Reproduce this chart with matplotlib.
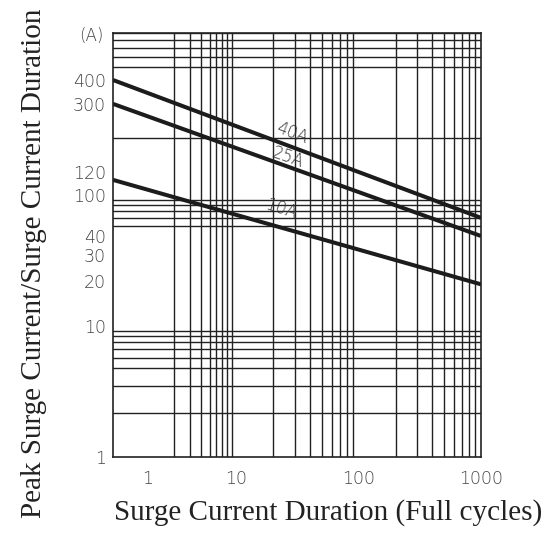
import numpy as np
import matplotlib
matplotlib.use('Agg')
import matplotlib.pyplot as plt
import matplotlib.transforms as mtrans
from matplotlib.ticker import FixedLocator, NullFormatter

# (straight lines on log paper)
CYCLES = [0.4, 1000]
PEAK_40A = [400, 60]
PEAK_25A = [300, 40]
PEAK_10A = [120, 19]
SERIES = [('40A', PEAK_40A), ('25A', PEAK_25A), ('10A', PEAK_10A)]

X_TICKS = [1, 10, 100, 1000]
Y_TICKS = [1, 10, 20, 30, 40, 100, 120, 300, 400]

LINE_COLOR = '#1c1c1c'
GRID_COLOR = '#222222'
TICK_COLOR = '#444444'


def _lin(t, xs, ys):
    # piecewise linear with linear extrapolation at both ends
    t = np.asarray(t, dtype=float)
    out = np.interp(t, xs, ys)
    lo_slope = (ys[1] - ys[0]) / (xs[1] - xs[0])
    hi_slope = (ys[-1] - ys[-2]) / (xs[-1] - xs[-2])
    out = np.where(t < xs[0], ys[0] + (t - xs[0]) * lo_slope, out)
    out = np.where(t > xs[-1], ys[-1] + (t - xs[-1]) * hi_slope, out)
    return out


def paper_scale(values, positions):
    # the printed log paper is not quite uniform, so the decades get knots
    lv = np.log10(np.asarray(values, dtype=float))
    pos = np.asarray(positions, dtype=float)

    def fwd(v):
        with np.errstate(divide='ignore', invalid='ignore'):
            t = np.log10(np.clip(np.asarray(v, dtype=float), 1e-9, None))
        return _lin(t, lv, pos)

    def inv(p):
        return 10 ** _lin(p, pos, lv)
    return fwd, inv


fig = plt.figure(figsize=(5.54, 5.47), dpi=100)
ax = fig.add_axes([113 / 554, 90 / 547, 368 / 554, 424 / 547])

ax.set_xscale('function', functions=paper_scale([0.4, 1, 10, 100, 1000],
                                                [0, 35, 123, 246, 368]))
ax.set_yscale('function', functions=paper_scale([1, 4, 10, 40, 100, 400, 900],
                                                [0, 89, 131, 221, 262, 377, 424]))
ax.set_xlim(0.4, 1000)
ax.set_ylim(1, 900)

for name, peak in SERIES:
    ax.plot(CYCLES, peak, color=LINE_COLOR, lw=2.9, solid_capstyle='butt', zorder=3)

# grid on every 1..9 step of each decade
xgrid = [m * 10 ** k for k in range(0, 3) for m in range(1, 10)] + [1000]
ygrid = [m * 10 ** k for k in range(0, 3) for m in range(1, 10)]
ax.xaxis.set_minor_locator(FixedLocator(xgrid))
ax.yaxis.set_minor_locator(FixedLocator(ygrid))
ax.xaxis.set_minor_formatter(NullFormatter())
ax.yaxis.set_minor_formatter(NullFormatter())
ax.xaxis.set_major_locator(FixedLocator(X_TICKS))
ax.yaxis.set_major_locator(FixedLocator(Y_TICKS))
ax.set_xticklabels([str(v) for v in X_TICKS])
ax.set_yticklabels([str(v) for v in Y_TICKS])
ax.grid(which='minor', color=GRID_COLOR, lw=1.0)
ax.grid(which='major', visible=False)
ax.tick_params(which='both', length=0)
ax.tick_params(axis='x', pad=9)
ax.tick_params(axis='y', pad=5)
for lab in ax.get_xticklabels() + ax.get_yticklabels():
    lab.set_fontsize(12.5)
    lab.set_color(TICK_COLOR)
    lab.set_fontweight('light')
for sp in ax.spines.values():
    sp.set_color(GRID_COLOR)
    sp.set_linewidth(1.2)

# the sheet prints "120" a bit above its grid value, clear of "100"
lab120 = ax.yaxis.get_majorticklabels()[Y_TICKS.index(120)]
lab120.set_transform(lab120.get_transform() +
                     mtrans.ScaledTranslation(0, 8 / 100, fig.dpi_scale_trans))

# curve labels
label_pos = {'40A': (0.486, 0.764, -21), '25A': (0.476, 0.705, -19), '10A': (0.457, 0.585, -18)}
for name, (px, py, rot) in label_pos.items():
    ax.text(px, py, name, transform=ax.transAxes, rotation=rot, rotation_mode='anchor',
            ha='center', va='center', fontsize=12, color='#333333', fontweight='light')

fig.text(91 / 554, 1 - 36 / 547, '(A)', ha='center', va='center',
         fontsize=12, color=TICK_COLOR, fontweight='light')

fig.text(328 / 554, 1 - 513 / 547, 'Surge Current Duration (Full cycles)',
         ha='center', va='center', fontsize=21, family='Liberation Serif', color='#222222')
fig.text(34 / 554, 1 - 263 / 547, 'Peak Surge Current/Surge Current Duration',
         ha='center', va='center', rotation=90, fontsize=21,
         family='Liberation Serif', color='#222222')

fig.savefig('out.png', dpi=100)
